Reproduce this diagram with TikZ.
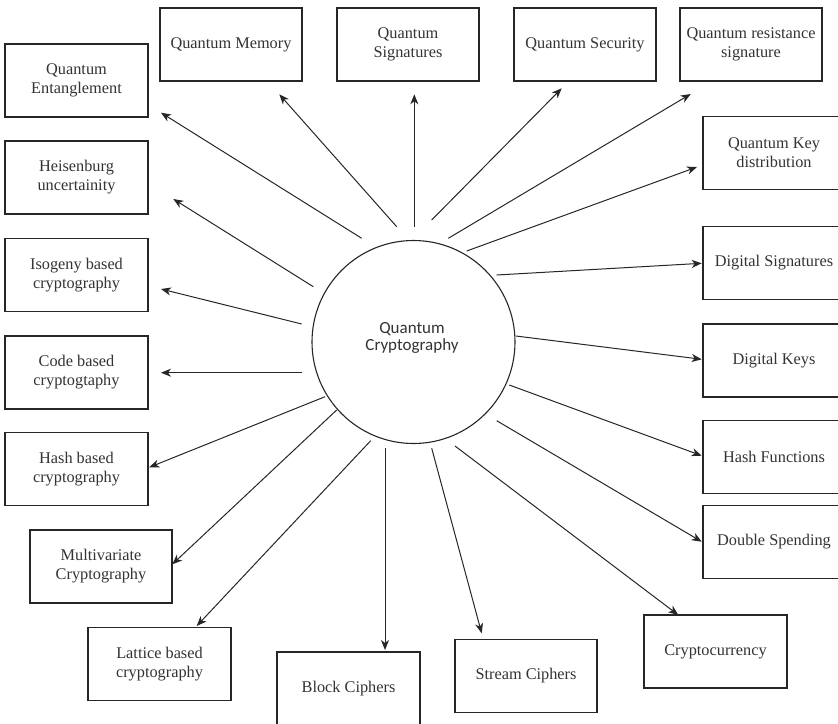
\documentclass[tikz,border=0pt]{standalone}
\usepackage{fontspec}
\setmainfont{Liberation Serif}
\newfontfamily\hubfont{Carlito}
\usetikzlibrary{arrows.meta}

\begin{document}
\begin{tikzpicture}[x=1pt,y=-1pt,
  box/.style={draw=black!85, line width=1.1pt, fill=white,
    minimum width=142pt, minimum height=73pt, align=center, inner sep=1pt,
    font=\fontsize{16.3}{19}\selectfont, text=black!80},
  hub/.style={circle, draw=black!85, line width=1.1pt, minimum size=203pt, inner sep=0pt},
  arr/.style={draw=black!85, line width=1pt,
    -{Stealth[length=10pt,width=8pt,inset=3pt]}}]
\useasboundingbox (0,0) rectangle (838,723);
\clip (0,0) rectangle (838,723);

% central topic
\node[hub] (c) at (413.5,342) {};
\node[align=center, inner sep=0pt, text=black!80,
      font=\hubfont\fontsize{17}{17}\selectfont] (ct) at (412,338) {Quantum\\Cryptography};

% top row
\node[box] (mem) at (231,44.5) {Quantum Memory};
\node[box] (sig) at (408,44.5) {Quantum\\Signatures};
\node[box] (sec) at (585,44.5) {Quantum Security};
\node[box] (res) at (751,44.5) {Quantum resistance\\signature};

% left column
\node[box, minimum width=143pt] (ent) at (76.5,80.5) {Quantum\\Entanglement};
\node[box, minimum width=143pt] (heis) at (76.5,177.5) {Heisenburg\\uncertainity};
\node[box, minimum width=143pt] (iso) at (76.5,275) {Isogeny based\\cryptography};
\node[box, minimum width=143pt] (code) at (76.5,372.5) {Code based\\cryptogtaphy};
\node[box, minimum width=143pt] (hashb) at (76.5,469) {Hash based\\cryptography};
\node[box] (multi) at (101,566.5) {Multivariate\\Cryptography};
\node[box, minimum width=143pt] (lat) at (159.5,664) {Lattice based\\cryptography};

% bottom row
\node[box, minimum width=143pt] (block) at (348.5,688.5) {Block Ciphers};
\node[box] (stream) at (526,676) {Stream Ciphers};
\node[box, minimum width=143pt] (cur) at (715.5,651.5) {Cryptocurrency};

% right column
\node[box] (qkd) at (774,153) {Quantum Key\\distribution};
\node[box] (dsig) at (774,263) {Digital Signatures};
\node[box] (dkey) at (774,360.5) {Digital Keys};
\node[box] (hfun) at (774,457) {Hash Functions};
\node[box] (dsp) at (774,542) {Double Spending};

% spokes from the hub towards each topic
\foreach \n/\sx/\sy/\ex/\ey in {
    ent/361.7/238.3/161/112.7,
    mem/396.7/226.7/279.3/94.3,
    sig/414.3/226.7/414.3/94.3,
    sec/431.7/220/561.7/88.3,
    res/448.3/238.3/690.7/94,
    qkd/466.7/251/697/167,
    heis/313.3/286.7/173.3/199,
    iso/301.7/324/161/289,
    code/301.7/372.7/161/372.7,
    hashb/325/396.7/149.3/467.3,
    multi/336.7/410/172.3/564.3,
    lat/370.7/440.7/196.7/626,
    block/385/448.3/385/650,
    stream/431.7/448.3/481.7/633.3,
    cur/455/446/678.3/615,
    dsp/496.7/420.7/701.7/541.7,
    hfun/509.3/385/701.7/455.7,
    dkey/516/336/701.7/359.3,
    dsig/496.7/275/701.7/263.3} {
  \coordinate (s-\n) at (\sx,\sy);
  \coordinate (e-\n) at (\ex,\ey);
  \draw[arr] (s-\n) -- (e-\n);
}
\end{tikzpicture}
\end{document}
